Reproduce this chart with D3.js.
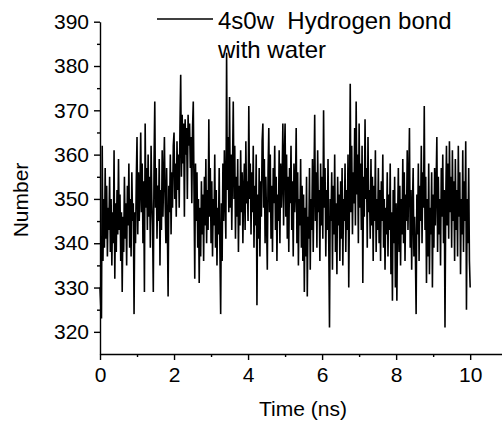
<!DOCTYPE html>
<html>
<head>
<meta charset="utf-8">
<script src="https://cdn.jsdelivr.net/npm/d3@7"></script>
<style>
    body { margin: 0; background: #fff; }
    svg { display: block; font-family: "Liberation Sans", Arial, sans-serif; }
    .axis path, .axis line { stroke: #000; stroke-width: 1.4px; }
    .axis text { font-size: 21px; fill: #000; font-family: "Liberation Sans", Arial, sans-serif; }
    .label { font-size: 21px; fill: #000; }
    .legend-text { font-size: 24px; }
</style>
</head>
<body>
<div id="chart"></div>
<script>
// time step of the trajectory (ns)
const timeStep = 0.02;

// hydrogen bonds with water, one value per frame
const hbonds = [
    330, 326, 323, 362, 336, 350, 339, 357, 341, 353, 337, 348, 343, 355, 338, 350, 335, 347, 340, 361, 332, 349, 338, 352, 342,
    359, 343, 351, 336, 347, 329, 346, 338, 355, 341, 349, 335, 353, 344, 358, 339, 350, 337, 356, 345, 349, 324, 347, 340, 354,
    364, 342, 356, 345, 352, 365, 347, 358, 340, 354, 329, 367, 348, 357, 343, 360, 346, 355, 339, 362, 350, 344, 329, 358, 372,
    348, 357, 341, 353, 345, 359, 335, 352, 343, 361, 346, 355, 364, 349, 340, 357, 344, 328, 353, 347, 360, 342, 356, 348, 362,
    365, 350, 358, 346, 363, 352, 360, 348, 366, 378, 355, 369, 358, 367, 346, 368, 360, 366, 350, 369, 362, 367, 357, 364, 349,
    366, 372, 352, 332, 358, 345, 356, 339, 350, 331, 348, 337, 354, 342, 351, 336, 355, 344, 359, 340, 352, 343, 368, 346, 357,
    340, 354, 337, 350, 344, 360, 339, 352, 335, 348, 342, 357, 338, 324, 349, 336, 358, 345, 361, 350, 341, 383, 352, 364, 347,
    373, 348, 360, 343, 357, 372, 350, 362, 341, 355, 346, 359, 338, 353, 344, 361, 347, 356, 340, 352, 358, 343, 363, 349, 354,
    345, 371, 350, 358, 342, 356, 347, 362, 339, 353, 344, 360, 326, 351, 341, 357, 337, 354, 346, 363, 367, 348, 359, 340, 355,
    345, 334, 356, 366, 347, 360, 341, 353, 338, 357, 349, 362, 343, 355, 336, 351, 345, 361, 340, 358, 348, 354, 367, 344, 359,
    367, 346, 360, 341, 355, 338, 357, 349, 362, 343, 354, 337, 358, 347, 352, 366, 340, 356, 335, 350, 344, 359, 339, 353, 336,
    351, 329, 348, 337, 355, 328, 346, 341, 357, 334, 350, 343, 359, 338, 353, 369, 345, 356, 339, 361, 347, 352, 336, 358, 344,
    355, 341, 370, 348, 357, 337, 352, 343, 359, 340, 321, 350, 345, 356, 334, 353, 342, 360, 338, 349, 333, 355, 344, 351, 336,
    354, 341, 357, 335, 350, 345, 358, 338, 352, 343, 360, 330, 349, 376, 347, 362, 342, 356, 349, 366, 344, 372, 351, 360, 340,
    367, 348, 358, 343, 362, 331, 355, 346, 368, 350, 357, 339, 364, 347, 352, 341, 359, 344, 355, 336, 353, 345, 361, 338, 350,
    343, 357, 340, 352, 336, 354, 345, 360, 339, 350, 334, 348, 342, 356, 337, 351, 343, 358, 333, 347, 327, 352, 340, 355, 330,
    349, 327, 345, 357, 338, 353, 335, 350, 342, 359, 340, 356, 336, 351, 345, 361, 343, 354, 366, 339, 352, 334, 348, 357, 337,
    346, 338, 324, 351, 342, 358, 336, 353, 345, 362, 340, 356, 348, 371, 343, 355, 331, 350, 337, 358, 333, 348, 342, 356, 330,
    351, 339, 357, 344, 353, 364, 338, 355, 342, 350, 335, 357, 346, 360, 340, 352, 321, 349, 362, 344, 358, 341, 363, 347, 355,
    339, 361, 345, 354, 336, 359, 343, 352, 337, 362, 346, 356, 333, 350, 342, 361, 338, 354, 345, 363, 325, 350, 340, 357, 336,
    330
];

const xTicks = [0, 2, 4, 6, 8, 10];
const xMinorTicks = [1, 3, 5, 7, 9];
const yTicks = [320, 330, 340, 350, 360, 370, 380, 390];
const yMinorTicks = [325, 335, 345, 355, 365, 375, 385];

const legendLines = ["4s0w  Hydrogen bond", "with water"];

const data = hbonds.map((v, i) => ({ t: i * timeStep, n: v }));

const width = 502, height = 425;

const svg = d3.select("#chart").append("svg")
    .attr("width", width)
    .attr("height", height);

const x = d3.scaleLinear().domain([0, 10.86]).range([100, 502]);
const y = d3.scaleLinear().domain([315, 390]).range([354, 21.7]);

// minor ticks first, then the main axes on top
svg.append("g")
    .attr("class", "axis")
    .attr("transform", `translate(0,${y(315)})`)
    .call(d3.axisBottom(x).tickValues(xMinorTicks).tickSize(3).tickSizeOuter(0).tickFormat(""))
    .select(".domain").remove();

svg.append("g")
    .attr("class", "axis")
    .attr("transform", `translate(${x(0)},0)`)
    .call(d3.axisLeft(y).tickValues(yMinorTicks).tickSize(3).tickSizeOuter(0).tickFormat(""))
    .select(".domain").remove();

svg.append("g")
    .attr("class", "axis")
    .attr("transform", `translate(0,${y(315)})`)
    .call(d3.axisBottom(x).tickValues(xTicks).tickSize(6).tickPadding(7).tickSizeOuter(0).tickFormat(d3.format("d")));

svg.append("g")
    .attr("class", "axis")
    .attr("transform", `translate(${x(0)},0)`)
    .call(d3.axisLeft(y).tickValues(yTicks).tickSize(6).tickPadding(5).tickSizeOuter(0).tickFormat(d3.format("d")));

const line = d3.line()
    .x(d => x(d.t))
    .y(d => y(d.n));

svg.append("path")
    .datum(data)
    .attr("fill", "none")
    .attr("stroke", "#000")
    .attr("stroke-width", 1.6)
    .attr("d", line);

// legend
svg.append("line")
    .attr("x1", 157).attr("x2", 213)
    .attr("y1", 19).attr("y2", 19)
    .attr("stroke", "#000")
    .attr("stroke-width", 1.4);

svg.selectAll(".legend-text")
    .data(legendLines)
    .enter().append("text")
    .attr("class", "label legend-text")
    .attr("x", 218)
    .attr("y", (d, i) => 29 + i * 29)
    .style("white-space", "pre")
    .text(d => d);

// axis titles
svg.append("text")
    .attr("class", "label")
    .attr("x", 303)
    .attr("y", 416)
    .attr("text-anchor", "middle")
    .text("Time (ns)");

svg.append("text")
    .attr("class", "label")
    .attr("transform", "translate(28,200) rotate(-90)")
    .attr("text-anchor", "middle")
    .text("Number");
</script>
</body>
</html>
